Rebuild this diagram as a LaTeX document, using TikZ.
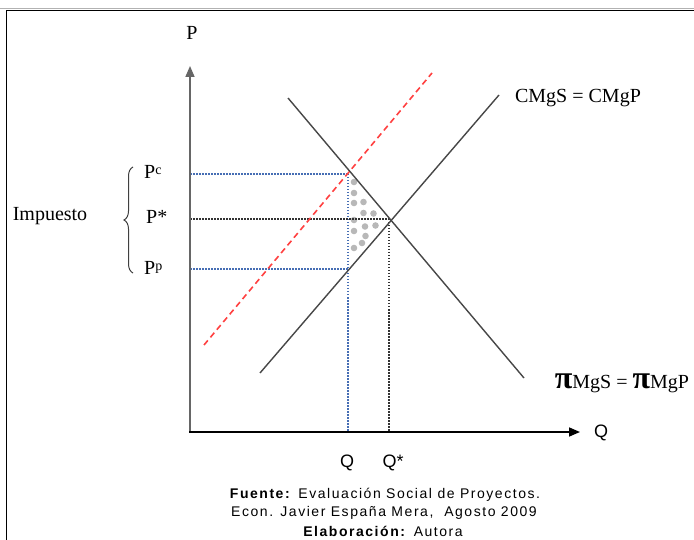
\documentclass[tikz,border=0pt]{standalone}
\usepackage{fontspec}
\setmainfont{Liberation Serif}
\newfontfamily\capfont[LetterSpace=11]{Liberation Sans}
\newfontfamily\sansfont{Liberation Sans}
\usetikzlibrary{arrows.meta,decorations.pathreplacing}
\definecolor{dotblue}{RGB}{70,110,180}
\newcommand{\bigpi}{{\fontsize{32}{32}\selectfont\bfseries π}}
\begin{document}
\begin{tikzpicture}[x=1pt,y=-1pt,
  axis/.style={line width=1.6pt,-{Triangle[length=11pt,width=9pt]}},
  curve/.style={line width=1.4pt,draw=black!72},
  tax/.style={line width=1.6pt,draw=red!75,dash pattern=on 6pt off 4pt},
  bluedot/.style={line width=1.5pt,draw=dotblue,dash pattern=on 1.5pt off 1.5pt},
  blackdot/.style={line width=1.5pt,draw=black!80,dash pattern=on 1.5pt off 1.5pt},
  lbl/.style={inner sep=0pt,font=\fontsize{20}{22}\selectfont},
  qlbl/.style={inner sep=0pt,font=\sansfont\fontsize{18}{20}\selectfont},
  captxt/.style={inner sep=0pt,font=\capfont\fontsize{14}{15}\selectfont}]
\useasboundingbox (0,0) rectangle (694,540);
% frame
\draw[black!30,line width=0.6pt] (0,8.5) -- (694,8.5);
\draw[line width=1.5pt] (6.5,540) -- (6.5,10.5) -- (694,10.5);
% coordinates
\coordinate (O) at (190,432);
\coordinate (Ytip) at (190,66);
\coordinate (Xtip) at (580,432);
\coordinate (D1) at (288,98);
\coordinate (D2) at (524,378);
\coordinate (S1) at (260,373);
\coordinate (S2) at (499,95);
\coordinate (T1) at (204,345);
\coordinate (T2) at (432,73);
\coordinate (E) at (389,219);
\coordinate (A) at (348,174);
\coordinate (B) at (348,269);
\coordinate (Pcy) at (190,174);
\coordinate (Psy) at (190,219);
\coordinate (Ppy) at (190,269);
\coordinate (Qx) at (348,432);
\coordinate (Qsx) at (389,432);
% gray dots
\foreach \x/\y in {354/182,354/193,354/203,354/220,354/231,354/248,
  363.5/202,363.5/213,365/226.5,365.5/236,362/243,
  373.5/213.5,375.5/225.5}
  \fill[black!28] (\x,\y) circle (3.3pt);
% dotted guides
\draw[bluedot] (Pcy) -- (A);
\draw[bluedot] (Ppy) -- (B);
\draw[bluedot] (A) -- (Qx);
\draw[blackdot] (Psy) -- (E);
\draw[blackdot] (E) -- (Qsx);
% curves
\draw[curve] (D1) -- (D2);
\draw[curve] (S1) -- (S2);
\draw[tax] (T1) -- (T2);
% axes
\draw[axis,draw=black!60,fill=black] (O) -- (Ytip);
\draw[axis] ([xshift=-0.8pt]O) -- (Xtip);
% labels
\node[lbl] (lP) at (192,33) {P};
\node[qlbl] (lQ) at (601,433) {Q};
\node[qlbl] (lQ1) at (347,463) {Q};
\node[qlbl] (lQ2) at (393,463) {Q*};
\node[lbl,anchor=west] (lPc) at (144,172) {P\raisebox{4pt}{\fontsize{14}{14}\selectfont c}};
\node[lbl,anchor=west] (lPs) at (146,217) {P*};
\node[lbl,anchor=west] (lPp) at (144,268) {P\raisebox{4pt}{\fontsize{14}{14}\selectfont p}};
\node[lbl] (lImp) at (50,216) {Impuesto};
\coordinate (br1) at (133,167);
\coordinate (br2) at (133,273);
\draw[black!75,line width=1pt,decorate,decoration={brace,amplitude=9pt}] (br2) -- (br1);
\node[lbl] (lC) at (578,98) {CMgS = CMgP};
\node[lbl] (lPi) at (622,383) {\bigpi MgS = \bigpi MgP};
\node[captxt] (c1) at (385,495) {\textbf{Fuente:} Evaluación Social de Proyectos.};
\node[captxt] (c2) at (384,513) {Econ. Javier España Mera,\ \ Agosto 2009};
\node[captxt] (c3) at (383,531) {\textbf{Elaboración:} Autora};
\end{tikzpicture}
\end{document}
